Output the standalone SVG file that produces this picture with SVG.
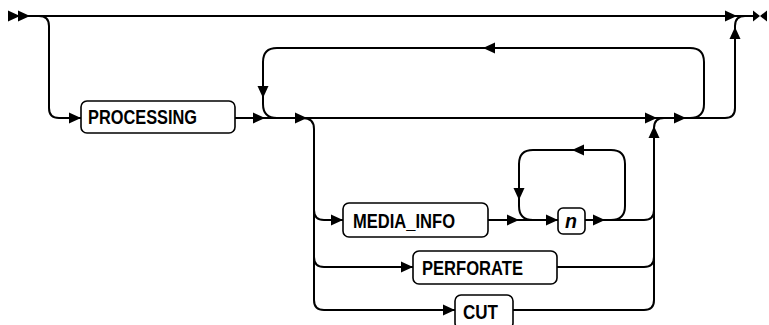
<svg xmlns="http://www.w3.org/2000/svg" xmlns:xlink="http://www.w3.org/1999/xlink" width="769" height="325" viewBox="0 0 769 325">
<style>
.ln{fill:none;stroke:#000;stroke-width:2}
.bx{fill:#fff;stroke:#000;stroke-width:1.6}
.tx{font-family:"Liberation Sans Narrow","Liberation Sans",Arial,sans-serif;font-weight:bold;font-size:21px;fill:#000}
.ah{fill:#000}
</style>
<defs>
<path id="ar" d="M-12,-5.5 L0,0 L-12,5.5 Z"/>
</defs>
<rect width="769" height="325" fill="#fff"/>
<g id="connectors">
<path class="ln" d="M28 16 L753 16"/>
<path class="ln" d="M39 16 Q49 16 49 26 L49 108 Q49 118 59 118 L81 118"/>
<path class="ln" d="M235 118 L725 118 Q735 118 735 108 L735 26 Q735 16 745 16"/>
<path class="ln" d="M690 118 Q704 118 704 104 L704 62 Q704 48 690 48 L277 48 Q263 48 263 62 L263 104 Q263 118 277 118"/>
<path class="ln" d="M303 118 Q314 118 314 129 L314 300 Q314 310 324 310 L455 310"/>
<path class="ln" d="M314 210 Q314 220 324 220 L343 220"/>
<path class="ln" d="M314 257 Q314 267 324 267 L413 267"/>
<path class="ln" d="M488 220 L558 220"/>
<path class="ln" d="M585 220 L644 220 Q654 220 654 210"/>
<path class="ln" d="M557 267 L644 267 Q654 267 654 257"/>
<path class="ln" d="M513 310 L644 310 Q654 310 654 300 L654 128 Q654 118 664 118"/>
<path class="ln" d="M611 220 Q625 220 625 206 L625 164 Q625 150 611 150 L533 150 Q519 150 519 164 L519 206 Q519 220 533 220"/>
<g class="ah">
<use xlink:href="#ar" transform="translate(20,16)"/>
<use xlink:href="#ar" transform="translate(30,16)"/>
<use xlink:href="#ar" transform="translate(737,16)"/>
<path d="M753 10.5 L760 16 L753 21.5 Z M767 10.5 L760 16 L767 21.5 Z"/>
<use xlink:href="#ar" transform="translate(735,27) rotate(-90)"/>
<use xlink:href="#ar" transform="translate(81,118)"/>
<use xlink:href="#ar" transform="translate(265,118)"/>
<use xlink:href="#ar" transform="translate(307,118)"/>
<use xlink:href="#ar" transform="translate(657,118)"/>
<use xlink:href="#ar" transform="translate(686,118)"/>
<use xlink:href="#ar" transform="translate(483,48) rotate(180)"/>
<use xlink:href="#ar" transform="translate(263,98) rotate(90)"/>
<use xlink:href="#ar" transform="translate(654,126) rotate(-90)"/>
<use xlink:href="#ar" transform="translate(343,220)"/>
<use xlink:href="#ar" transform="translate(413,267)"/>
<use xlink:href="#ar" transform="translate(455,310)"/>
<use xlink:href="#ar" transform="translate(519,220)"/>
<use xlink:href="#ar" transform="translate(558,220)"/>
<use xlink:href="#ar" transform="translate(605,220)"/>
<use xlink:href="#ar" transform="translate(572,150) rotate(180)"/>
<use xlink:href="#ar" transform="translate(519,200) rotate(90)"/>
</g>
</g>
<g id="processing">
<rect class="bx" x="81" y="101" width="154" height="32" rx="6"/>
<text class="tx" x="88" y="124" textLength="109" lengthAdjust="spacingAndGlyphs">PROCESSING</text>
</g>
<g id="media_info">
<rect class="bx" x="343" y="203" width="145" height="34" rx="6"/>
<text class="tx" x="353" y="228" textLength="102" lengthAdjust="spacingAndGlyphs">MEDIA_INFO</text>
</g>
<g id="n">
<rect class="bx" x="558" y="208" width="27" height="26" rx="5"/>
<text class="tx" x="565" y="228" font-style="italic" textLength="12" lengthAdjust="spacingAndGlyphs">n</text>
</g>
<g id="perforate">
<rect class="bx" x="413" y="251" width="144" height="33" rx="6"/>
<text class="tx" x="422" y="275" textLength="101" lengthAdjust="spacingAndGlyphs">PERFORATE</text>
</g>
<g id="cut">
<rect class="bx" x="455" y="295" width="58" height="34" rx="6"/>
<text class="tx" x="463" y="319" textLength="35" lengthAdjust="spacingAndGlyphs">CUT</text>
</g>
</svg>
